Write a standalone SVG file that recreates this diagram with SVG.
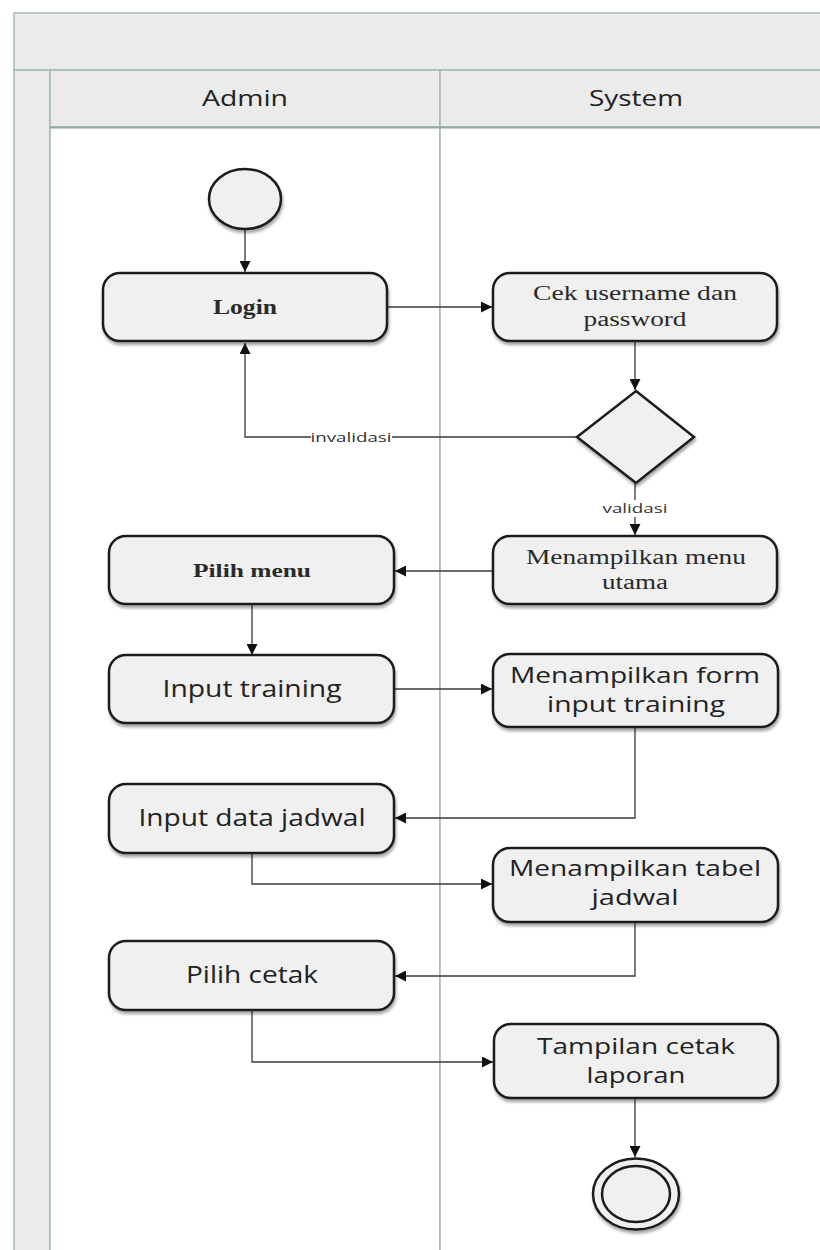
<svg xmlns="http://www.w3.org/2000/svg" width="820" height="1250" viewBox="0 0 820 1250">
  <defs>
    <style>
      .lane { fill: #ebebeb; stroke: #a3bab3; stroke-width: 1.5; }
      .body { fill: #ffffff; stroke: #a3bab3; stroke-width: 1.5; }
      .node { fill: #f0f0f0; stroke: #1c1c1c; stroke-width: 2.5; filter: url(#shadow); }
      .flow { fill: none; stroke: #3a3a3a; stroke-width: 1.3; marker-end: url(#arrow); }
      .serif { font-family: "Liberation Serif", "Times New Roman", serif; fill: #2a2a2a; text-anchor: middle; }
      .sans { font-family: "Open Sans", "Noto Sans", "DejaVu Sans", sans-serif; fill: #222222; text-anchor: middle; }
      .lbl { font-family: "Open Sans", "Noto Sans", sans-serif; font-size: 13px; fill: #333333; text-anchor: middle; }
    </style>
    <marker id="arrow" viewBox="0 0 10 10" refX="10" refY="5" markerWidth="11" markerHeight="11" markerUnits="userSpaceOnUse" orient="auto">
      <path d="M0,0 L10,5 L0,10 z" fill="#111111"/>
    </marker>
    <filter id="shadow" x="-10%" y="-10%" width="125%" height="130%">
      <feGaussianBlur in="SourceAlpha" stdDeviation="1.6"/>
      <feOffset dx="1" dy="2.5" result="b"/>
      <feComponentTransfer><feFuncA type="linear" slope="0.35"/></feComponentTransfer>
      <feMerge><feMergeNode/><feMergeNode in="SourceGraphic"/></feMerge>
    </filter>
  </defs>

  <rect width="820" height="1250" fill="#ffffff"/>

  <!-- swimlane frame -->
  <g id="swimlanes">
    <rect class="lane" x="14" y="13" width="820" height="57"/>
    <rect class="lane" x="14" y="70" width="36" height="1190"/>
    <rect class="body" x="50" y="127" width="390" height="1133"/>
    <rect class="body" x="440" y="127" width="400" height="1133"/>
    <rect class="lane" x="50" y="70" width="390" height="57"/>
    <rect class="lane" x="440" y="70" width="400" height="57"/>
    <line x1="50" y1="127.5" x2="820" y2="127.5" stroke="#8fa8a1" stroke-width="2"/>
    <text class="sans" x="245" y="106" font-size="21" textLength="86" lengthAdjust="spacingAndGlyphs">Admin</text>
    <text class="sans" x="636" y="106" font-size="21" textLength="94" lengthAdjust="spacingAndGlyphs">System</text>
  </g>

  <!-- connectors -->
  <g id="connectors">
    <path class="flow" d="M245,229 V272"/>
    <path class="flow" d="M388,307 H492"/>
    <path class="flow" d="M635,342 V390"/>
    <path class="flow" d="M577,437 H245 V343"/>
    <path class="flow" d="M635,483 V535"/>
    <path class="flow" d="M493,571 H395"/>
    <path class="flow" d="M252,605 V655"/>
    <path class="flow" d="M394,689 H492"/>
    <path class="flow" d="M635,728 V818 H395"/>
    <path class="flow" d="M252,853 V884 H492"/>
    <path class="flow" d="M635,923 V976 H395"/>
    <path class="flow" d="M252,1010 V1062 H493"/>
    <path class="flow" d="M635,1098 V1157"/>
    <rect x="311" y="429" width="81" height="16" fill="#ffffff"/>
    <text class="lbl" x="351" y="442" textLength="81" lengthAdjust="spacingAndGlyphs">invalidasi</text>
    <rect x="603" y="500" width="65" height="17" fill="#ffffff"/>
    <text class="lbl" x="635" y="513" textLength="65" lengthAdjust="spacingAndGlyphs">validasi</text>
  </g>

  <!-- initial node -->
  <g id="start">
    <ellipse class="node" cx="245" cy="199" rx="36" ry="30"/>
  </g>

  <g id="login">
    <rect class="node" x="103" y="273" width="284" height="68" rx="17"/>
    <text class="serif" x="245" y="314" font-size="21" font-weight="bold" textLength="64" lengthAdjust="spacingAndGlyphs">Login</text>
  </g>

  <g id="cek-login">
    <rect class="node" x="493" y="273" width="284" height="68" rx="17"/>
    <text class="serif" x="635" y="300" font-size="20" textLength="204" lengthAdjust="spacingAndGlyphs">Cek username dan</text>
    <text class="serif" x="635" y="326" font-size="20" textLength="103" lengthAdjust="spacingAndGlyphs">password</text>
  </g>

  <g id="decision">
    <polygon class="node" points="636,391 694,437 636,483 577,437"/>
  </g>

  <g id="menu-utama">
    <rect class="node" x="493" y="536" width="284" height="68" rx="17"/>
    <text class="serif" x="636" y="564" font-size="20" textLength="220" lengthAdjust="spacingAndGlyphs">Menampilkan menu</text>
    <text class="serif" x="635" y="589" font-size="20" textLength="66" lengthAdjust="spacingAndGlyphs">utama</text>
  </g>

  <g id="pilih-menu">
    <rect class="node" x="109" y="536" width="285" height="68" rx="17"/>
    <text class="serif" x="252" y="577" font-size="19" font-weight="bold" textLength="118" lengthAdjust="spacingAndGlyphs">Pilih menu</text>
  </g>

  <g id="input-training">
    <rect class="node" x="109" y="655" width="285" height="68" rx="17"/>
    <text class="sans" x="252" y="697" font-size="23" textLength="179" lengthAdjust="spacingAndGlyphs">Input training</text>
  </g>

  <g id="form-training">
    <rect class="node" x="493" y="654" width="285" height="73" rx="17"/>
    <text class="sans" x="635" y="683" font-size="22" textLength="250" lengthAdjust="spacingAndGlyphs">Menampilkan form</text>
    <text class="sans" x="636" y="712" font-size="22" textLength="178" lengthAdjust="spacingAndGlyphs">input training</text>
  </g>

  <g id="input-jadwal">
    <rect class="node" x="109" y="784" width="285" height="69" rx="17"/>
    <text class="sans" x="252" y="826" font-size="23" textLength="227" lengthAdjust="spacingAndGlyphs">Input data jadwal</text>
  </g>

  <g id="tabel-jadwal">
    <rect class="node" x="493" y="848" width="285" height="74" rx="17"/>
    <text class="sans" x="635" y="876" font-size="21" textLength="252" lengthAdjust="spacingAndGlyphs">Menampilkan tabel</text>
    <text class="sans" x="635" y="905" font-size="21" textLength="87" lengthAdjust="spacingAndGlyphs">jadwal</text>
  </g>

  <g id="pilih-cetak">
    <rect class="node" x="109" y="941" width="285" height="69" rx="17"/>
    <text class="sans" x="252" y="983" font-size="23" textLength="132" lengthAdjust="spacingAndGlyphs">Pilih cetak</text>
  </g>

  <g id="cetak-laporan">
    <rect class="node" x="494" y="1024" width="284" height="74" rx="17"/>
    <text class="sans" x="636" y="1054" font-size="21" textLength="198" lengthAdjust="spacingAndGlyphs">Tampilan cetak</text>
    <text class="sans" x="636" y="1083" font-size="21" textLength="99" lengthAdjust="spacingAndGlyphs">laporan</text>
  </g>

  <!-- final node -->
  <g id="end">
    <ellipse class="node" cx="636" cy="1194" rx="43" ry="35.5"/>
    <ellipse cx="636" cy="1194" rx="34" ry="28" fill="#f0f0f0" stroke="#1c1c1c" stroke-width="2.5"/>
  </g>
</svg>
